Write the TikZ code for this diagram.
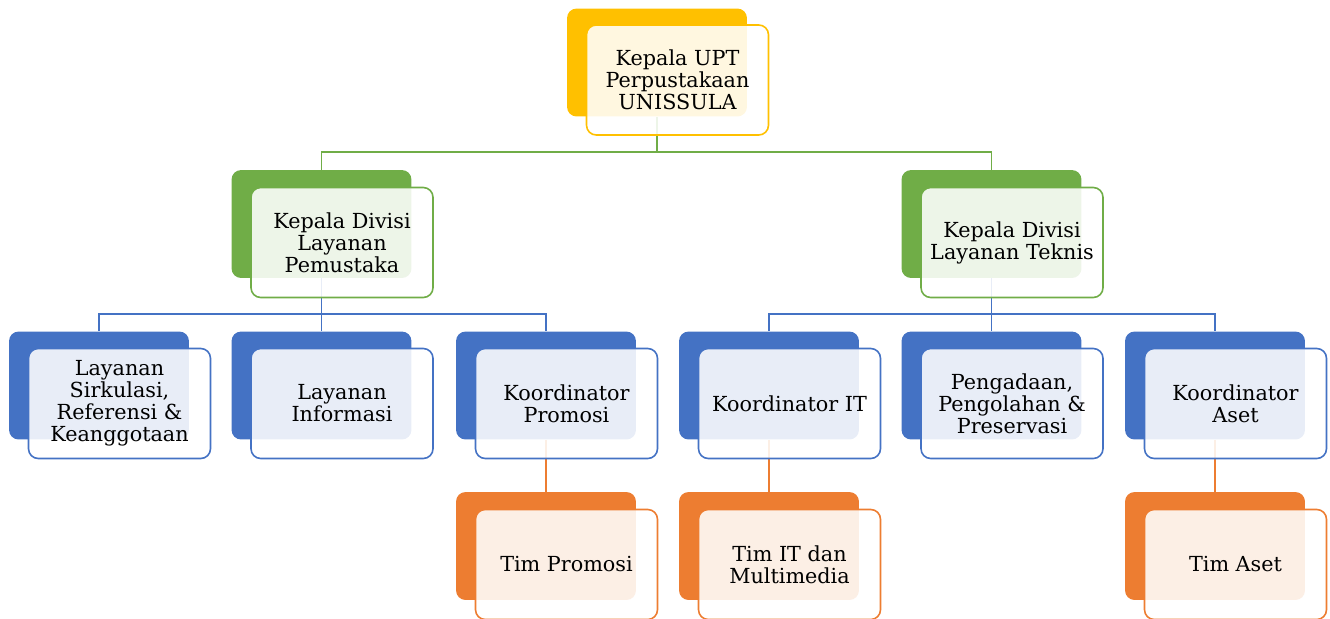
\documentclass[tikz,border=0pt]{standalone}
\usepackage{fontspec}
\setmainfont{DejaVu Serif}
\usetikzlibrary{positioning,calc}

\definecolor{topyellow}{HTML}{FFC000}
\definecolor{divgreen}{HTML}{70AD47}
\definecolor{unitblue}{HTML}{4472C4}
\definecolor{timorange}{HTML}{ED7D31}

\begin{document}
\begin{tikzpicture}[x=0.02cm, y=-0.02cm]
        \tikzset{backbox/.style={fill=#1, rounded corners=5.5pt, minimum width=3.6cm, minimum height=2.16cm, inner sep=0pt}}
        \tikzset{frontbox/.style={draw=#1, fill=white, fill opacity=0.88, text opacity=1, line width=0.9pt, rounded corners=5.5pt, minimum width=3.64cm, minimum height=2.2cm, inner sep=1pt, align=center, font=\fontsize{11.8}{12.5}\selectfont}}
        \tikzset{link/.style={draw=#1, line width=0.9pt}}
        \useasboundingbox (0,0) rectangle (1330,619);
        % connector bus points
        \coordinate (bus1) at (657,152);
        \coordinate (bus2) at (321.5,314);
        \coordinate (bus3) at (991.5,314);
        % back boxes
        \node[backbox=topyellow] (top) at (657,62.5) {};
        \node[backbox=divgreen] (divA) at (321.5,224) {};
        \node[backbox=divgreen] (divB) at (991.5,224) {};
        \node[backbox=unitblue] (sirk) at (99,385.5) {};
        \node[backbox=unitblue] (info) at (321.5,385.5) {};
        \node[backbox=unitblue] (promo) at (546,385.5) {};
        \node[backbox=unitblue] (kit) at (769,385.5) {};
        \node[backbox=unitblue] (pengadaan) at (991.5,385.5) {};
        \node[backbox=unitblue] (aset) at (1215,385.5) {};
        \node[backbox=timorange] (timpromo) at (546,546) {};
        \node[backbox=timorange] (timit) at (769,546) {};
        \node[backbox=timorange] (timaset) at (1215,546) {};
        % connectors
        \draw[link=divgreen] (top.south) -- (bus1) -| (divA.north);
        \draw[link=divgreen] (bus1) -| (divB.north);
        \draw[link=unitblue] (divA.south) -- (bus2) -| (sirk.north);
        \draw[link=unitblue] (bus2) -| (promo.north);
        \draw[link=unitblue] (bus2) -- (info.north);
        \draw[link=unitblue] (divB.south) -- (bus3) -| (kit.north);
        \draw[link=unitblue] (bus3) -| (aset.north);
        \draw[link=unitblue] (bus3) -- (pengadaan.north);
        \draw[link=timorange] (promo.south) -- (timpromo.north);
        \draw[link=timorange] (kit.south) -- (timit.north);
        \draw[link=timorange] (aset.south) -- (timaset.north);
        % front boxes
        \node[frontbox=topyellow] (topF) at ([shift={(20.5,17.5)}]top) {Kepala UPT\\Perpustakaan\\UNISSULA};
        \node[frontbox=divgreen] (divAF) at ([shift={(20.5,18.5)}]divA) {Kepala Divisi\\Layanan\\Pemustaka};
        \node[frontbox=divgreen] (divBF) at ([shift={(20.5,18.5)}]divB) {Kepala Divisi\\Layanan Teknis};
        \node[frontbox=unitblue] (sirkF) at ([shift={(20.5,18)}]sirk) {Layanan\\Sirkulasi,\\Referensi \&\\Keanggotaan};
        \node[frontbox=unitblue] (infoF) at ([shift={(20.5,18)}]info) {Layanan\\Informasi};
        \node[frontbox=unitblue] (promoF) at ([shift={(20.5,18)}]promo) {Koordinator\\Promosi};
        \node[frontbox=unitblue] (kitF) at ([shift={(20.5,18)}]kit) {Koordinator IT};
        \node[frontbox=unitblue] (pengadaanF) at ([shift={(20.5,18)}]pengadaan) {Pengadaan,\\Pengolahan \&\\Preservasi};
        \node[frontbox=unitblue] (asetF) at ([shift={(20.5,18)}]aset) {Koordinator\\Aset};
        \node[frontbox=timorange] (timpromoF) at ([shift={(20.5,18.5)}]timpromo) {Tim Promosi};
        \node[frontbox=timorange] (timitF) at ([shift={(20.5,18.5)}]timit) {Tim IT dan\\Multimedia};
        \node[frontbox=timorange] (timasetF) at ([shift={(20.5,18.5)}]timaset) {Tim Aset};
\end{tikzpicture}
\end{document}
